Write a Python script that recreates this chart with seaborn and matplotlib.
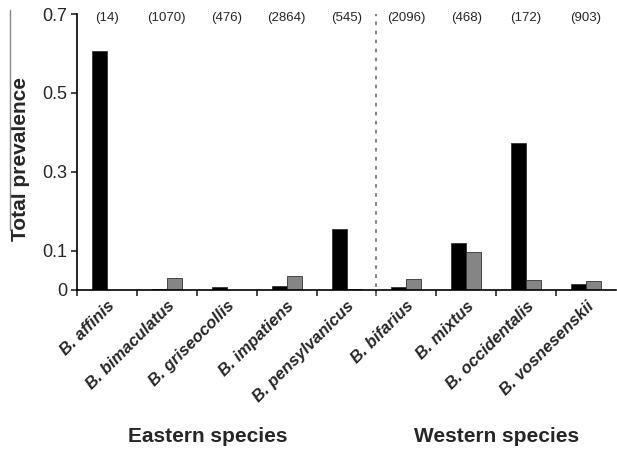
import numpy as np
import pandas as pd
import matplotlib
matplotlib.use("Agg")
import matplotlib.pyplot as plt
import seaborn as sns
from matplotlib.lines import Line2D

# ── Data ────────────────────────────────────────────────────────────────────
species = ["B. affinis", "B. bimaculatus", "B. griseocollis", "B. impatiens",
           "B. pensylvanicus", "B. bifarius", "B. mixtus", "B. occidentalis",
           "B. vosnesenskii"]
sample_n = [14, 1070, 476, 2864, 545, 2096, 468, 172, 903]
prev_black = [0.606, 0.003, 0.008, 0.009, 0.154, 0.007, 0.118, 0.372, 0.015]
prev_grey = [0.0, 0.031, 0.0, 0.035, 0.002, 0.027, 0.096, 0.025, 0.023]
series = ["Nosema", "Crithidia"]
groups = ["Eastern species", "Western species"]
n_east = 5

df = pd.DataFrame({
    "species": species * 2,
    "prevalence": prev_black + prev_grey,
    "series": [series[0]] * len(species) + [series[1]] * len(species),
})

sns.set_style("white")
plt.rcParams["font.family"] = ["Liberation Sans", "DejaVu Sans"]

fig = plt.figure(figsize=(6.17, 4.49), dpi=100)
ax = fig.add_axes([77 / 617, (449 - 290) / 449, 539 / 617, 276 / 449])

sns.barplot(data=df, x="species", y="prevalence", hue="series",
            palette=["#000000", "#858585"], width=0.5, ax=ax,
            legend=False, saturation=1, edgecolor="#333333", linewidth=0.6)

ax.set_xlim(-0.5, len(species) - 0.5)
ax.set_ylim(0, 0.7)
ax.set_yticks([0, 0.1, 0.3, 0.5, 0.7])
ax.set_yticklabels(["0", "0.1", "0.3", "0.5", "0.7"], fontsize=13)
ax.tick_params(axis="y", direction="out", length=4, width=1.2, left=True, pad=3)

# tick marks between categories, labels at centres
ax.set_xticks(np.arange(len(species)))
ax.set_xticklabels(species, rotation=45, ha="right", rotation_mode="anchor",
                   fontsize=12, fontweight="bold", fontstyle="italic")
ax.tick_params(axis="x", which="major", length=0, pad=6)
ax.set_xticks(np.arange(len(species)) + 0.5 - 1, minor=True)
ax.tick_params(axis="x", which="minor", direction="out", length=4, width=1.2,
               bottom=True)

for side in ["top", "right"]:
    ax.spines[side].set_visible(False)
for side in ["left", "bottom"]:
    ax.spines[side].set_linewidth(1.2)
    ax.spines[side].set_color("black")

ax.set_xlabel("")
ax.set_ylabel("Total prevalence", fontsize=15, fontweight="bold")
ax.yaxis.set_label_coords(-0.088, 0.476)

# east / west divider
ax.axvline(n_east - 0.5, color="#777777", linestyle=(0, (2, 3)), linewidth=1.3,
           ymin=-0.02, ymax=1.0, clip_on=False)

# sample sizes
for i, n in enumerate(sample_n):
    ax.text(i, 0.69, f"({n})", ha="center", va="center", fontsize=9.5)

# group labels
fig.text(208 / 617, 1 - 436 / 449, groups[0], ha="center", va="center",
         fontsize=15, fontweight="bold")
fig.text(497 / 617, 1 - 436 / 449, groups[1], ha="center", va="center",
         fontsize=15, fontweight="bold")

# thin grey rule at the far left of the scan
fig.add_artist(Line2D([9.5 / 617, 9.5 / 617], [1 - 10 / 449, 1 - 230 / 449],
                      color="#888888", linewidth=1.0))

fig.savefig("out.png", dpi=100)
